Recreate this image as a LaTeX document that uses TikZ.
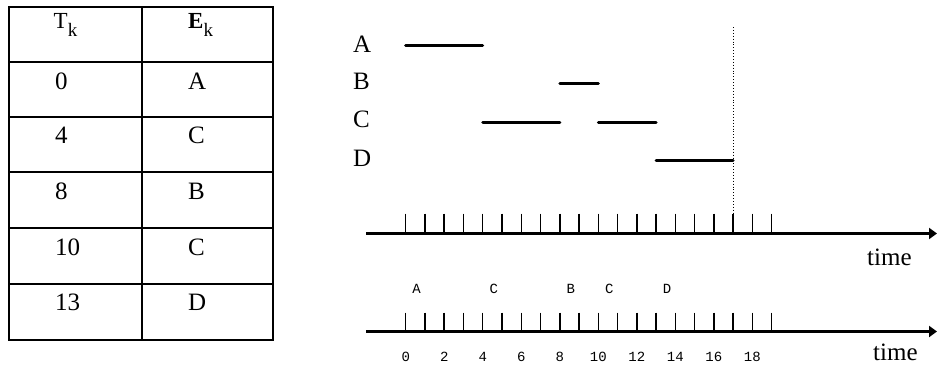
\documentclass[tikz,border=0pt]{standalone}
\usepackage{fontspec}
\setmainfont{Liberation Serif}
\newfontfamily\monofont{Liberation Mono}
\usetikzlibrary{arrows.meta}
\newcommand{\subk}{\raisebox{-8pt}{\fontsize{19}{19}\selectfont\mdseries k}}
\begin{document}
\begin{tikzpicture}[x=1pt,y=-1pt,
  tabtxt/.style={anchor=base west,inner sep=0pt,font=\fontsize{25}{28}\selectfont},
  lbl/.style={anchor=base west,inner sep=0pt,font=\fontsize{25}{28}\selectfont},
  mono/.style={anchor=base,inner sep=0pt,font=\monofont\fontsize{14}{16}\selectfont},
  grid/.style={line width=2pt},
  axis/.style={line width=3pt,-{Triangle[length=8pt,width=11pt]}},
  tick/.style={line width=1.5pt},
  bar/.style={line width=3pt,line cap=round},
  guide/.style={line width=0.9pt,dotted}]
\useasboundingbox (0,0) rectangle (937,367);
% ---------- table ----------
\draw[grid] (8.7,7) rectangle (272.7,340);
\draw[grid] (142,7) -- (142,340);
\foreach \yy in {62,117,172,228,284} \draw[grid] (8.7,\yy) -- (272.7,\yy);
\node[tabtxt,font=\fontsize{23}{26}\selectfont] (th1) at (53.5,28.3) {T\subk};
\node[tabtxt,font=\fontsize{23}{26}\selectfont] (th2) at (188,28.3) {\textbf{E}\subk};
\node[tabtxt] (t1) at (55,89.5) {0};  \node[tabtxt] (e1) at (188,89.5) {A};
\node[tabtxt] (t2) at (55,143) {4};   \node[tabtxt] (e2) at (188,143) {C};
\node[tabtxt] (t3) at (55,199) {8};   \node[tabtxt] (e3) at (188,199) {B};
\node[tabtxt] (t4) at (55,255) {10};  \node[tabtxt] (e4) at (188,255) {C};
\node[tabtxt] (t5) at (55,310) {13};  \node[tabtxt] (e5) at (188,310) {D};
% ---------- gantt ----------
\def\tz{405.7}\def\du{19.26}
\node[lbl] (la) at (353,52) {A};
\node[lbl] (lb) at (353,89.5) {B};
\node[lbl] (lc) at (353,127.5) {C};
\node[lbl] (ld) at (353,166) {D};
\draw[bar] ({\tz+0*\du},45) -- ({\tz+4*\du},45);
\draw[bar] ({\tz+8*\du},83) -- ({\tz+10*\du},83);
\draw[bar] ({\tz+4*\du},122) -- ({\tz+8*\du},122);
\draw[bar] ({\tz+10*\du},122) -- ({\tz+13*\du},122);
\draw[bar] ({\tz+13*\du},160) -- ({\tz+17*\du},160);
% ---------- top axis ----------
\coordinate (a1s) at (366,233.5);
\coordinate (a1e) at (937,233.5);
\draw[axis] (a1s) -- (a1e);
\foreach \i in {0,...,19} \draw[tick] ({\tz+\i*\du},213.5) -- ({\tz+\i*\du},233.5);
\coordinate (gtop) at ({\tz+17*\du},27);
\coordinate (gbot) at ({\tz+17*\du},233.5);
\draw[guide] (gtop) -- (gbot);
\node[lbl] (time1) at (867,265) {time};
% ---------- bottom axis ----------
\coordinate (a2s) at (366,331.5);
\coordinate (a2e) at (937,331.5);
\draw[axis] (a2s) -- (a2e);
\foreach \i in {0,...,19} \draw[tick] ({\tz+\i*\du},312.5) -- ({\tz+\i*\du},331.5);
\foreach \t/\l/\n in {0/A/ma,4/C/mc1,8/B/mb,10/C/mc2,13/D/md}
  \node[mono] (\n) at ({\tz+(\t+0.57)*\du},293) {\l};
\foreach \t in {0,2,...,18}
  \node[mono] (n\t) at ({\tz+\t*\du},361.5) {\t};
\node[lbl] (time2) at (873,360) {time};
\end{tikzpicture}
\end{document}
